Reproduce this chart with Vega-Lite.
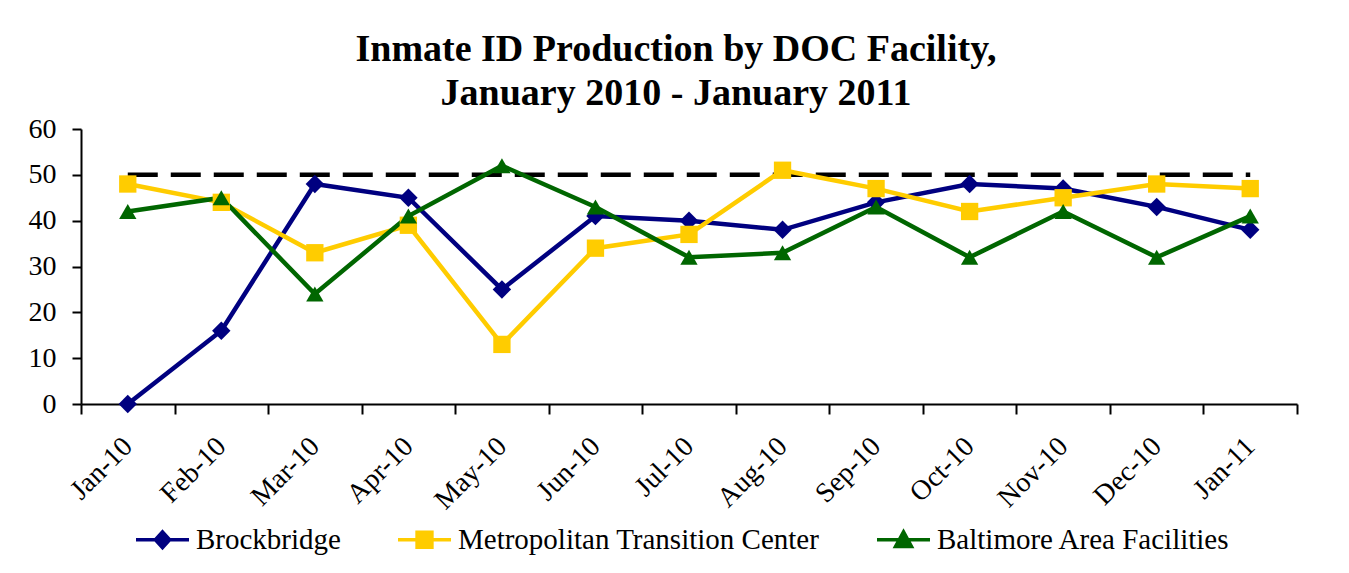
{
  "$schema": "https://vega.github.io/schema/vega-lite/v6.json",
  "width": 1216,
  "height": 275,
  "autosize": "none",
  "padding": {"left": 81, "top": 129, "right": 52, "bottom": 169},
  "background": "white",
  "title": {
    "text": ["Inmate ID  Production by DOC Facility,", "January 2010 - January 2011"],
    "font": "Liberation Serif",
    "fontSize": 38,
    "fontWeight": "bold",
    "lineHeight": 44,
    "anchor": "middle",
    "frame": "group",
    "dx": -13,
    "offset": 2,
    "color": "black"
  },
  "datasets": {
    "facilities": [
      {"month": "Jan-10", "series": "Brockbridge", "value": 0},
      {"month": "Feb-10", "series": "Brockbridge", "value": 16},
      {"month": "Mar-10", "series": "Brockbridge", "value": 48},
      {"month": "Apr-10", "series": "Brockbridge", "value": 45},
      {"month": "May-10", "series": "Brockbridge", "value": 25},
      {"month": "Jun-10", "series": "Brockbridge", "value": 41},
      {"month": "Jul-10", "series": "Brockbridge", "value": 40},
      {"month": "Aug-10", "series": "Brockbridge", "value": 38},
      {"month": "Sep-10", "series": "Brockbridge", "value": 44},
      {"month": "Oct-10", "series": "Brockbridge", "value": 48},
      {"month": "Nov-10", "series": "Brockbridge", "value": 47},
      {"month": "Dec-10", "series": "Brockbridge", "value": 43},
      {"month": "Jan-11", "series": "Brockbridge", "value": 38},
      {"month": "Jan-10", "series": "Metropolitan Transition Center", "value": 48},
      {"month": "Feb-10", "series": "Metropolitan Transition Center", "value": 44},
      {"month": "Mar-10", "series": "Metropolitan Transition Center", "value": 33},
      {"month": "Apr-10", "series": "Metropolitan Transition Center", "value": 39},
      {"month": "May-10", "series": "Metropolitan Transition Center", "value": 13},
      {"month": "Jun-10", "series": "Metropolitan Transition Center", "value": 34},
      {"month": "Jul-10", "series": "Metropolitan Transition Center", "value": 37},
      {"month": "Aug-10", "series": "Metropolitan Transition Center", "value": 51},
      {"month": "Sep-10", "series": "Metropolitan Transition Center", "value": 47},
      {"month": "Oct-10", "series": "Metropolitan Transition Center", "value": 42},
      {"month": "Nov-10", "series": "Metropolitan Transition Center", "value": 45},
      {"month": "Dec-10", "series": "Metropolitan Transition Center", "value": 48},
      {"month": "Jan-11", "series": "Metropolitan Transition Center", "value": 47},
      {"month": "Jan-10", "series": "Baltimore Area Facilities", "value": 42},
      {"month": "Feb-10", "series": "Baltimore Area Facilities", "value": 45},
      {"month": "Mar-10", "series": "Baltimore Area Facilities", "value": 24},
      {"month": "Apr-10", "series": "Baltimore Area Facilities", "value": 41},
      {"month": "May-10", "series": "Baltimore Area Facilities", "value": 52},
      {"month": "Jun-10", "series": "Baltimore Area Facilities", "value": 43},
      {"month": "Jul-10", "series": "Baltimore Area Facilities", "value": 32},
      {"month": "Aug-10", "series": "Baltimore Area Facilities", "value": 33},
      {"month": "Sep-10", "series": "Baltimore Area Facilities", "value": 43},
      {"month": "Oct-10", "series": "Baltimore Area Facilities", "value": 32},
      {"month": "Nov-10", "series": "Baltimore Area Facilities", "value": 42},
      {"month": "Dec-10", "series": "Baltimore Area Facilities", "value": 32},
      {"month": "Jan-11", "series": "Baltimore Area Facilities", "value": 41}
    ],
    "target": [
      {"month": "Jan-10", "value": 50},
      {"month": "Feb-10", "value": 50},
      {"month": "Mar-10", "value": 50},
      {"month": "Apr-10", "value": 50},
      {"month": "May-10", "value": 50},
      {"month": "Jun-10", "value": 50},
      {"month": "Jul-10", "value": 50},
      {"month": "Aug-10", "value": 50},
      {"month": "Sep-10", "value": 50},
      {"month": "Oct-10", "value": 50},
      {"month": "Nov-10", "value": 50},
      {"month": "Dec-10", "value": 50},
      {"month": "Jan-11", "value": 50}
    ]
  },
  "encoding": {
    "x": {
      "field": "month",
      "type": "ordinal",
      "scale": {
        "type": "band",
        "paddingInner": 0,
        "paddingOuter": 0,
        "domain": ["Jan-10", "Feb-10", "Mar-10", "Apr-10", "May-10", "Jun-10", "Jul-10", "Aug-10", "Sep-10", "Oct-10", "Nov-10", "Dec-10", "Jan-11"]
      },
      "axis": {
        "title": null,
        "labelAngle": -45,
        "labelAlign": "right",
        "labelBaseline": "middle",
        "labelFont": "Liberation Serif",
        "labelFontSize": 28,
        "labelColor": "black",
        "labelPadding": 28,
        "tickBand": "extent",
        "tickSize": 10,
        "tickWidth": 2,
        "tickColor": "black",
        "domainColor": "black",
        "domainWidth": 2,
        "grid": false
      }
    },
    "y": {
      "field": "value",
      "type": "quantitative",
      "scale": {"domain": [0, 60], "nice": false},
      "axis": {
        "title": null,
        "values": [0, 10, 20, 30, 40, 50, 60],
        "labelFont": "Liberation Serif",
        "labelFontSize": 28,
        "labelColor": "black",
        "labelPadding": 16,
        "tickSize": 9,
        "tickWidth": 2,
        "tickColor": "black",
        "domainColor": "black",
        "domainWidth": 2,
        "grid": false
      }
    }
  },
  "layer": [
    {
      "data": {"name": "target"},
      "mark": {"type": "line", "color": "black", "strokeWidth": 4.5, "strokeDash": [30, 13]},
      "encoding": {}
    },
    {
      "data": {"name": "facilities"},
      "mark": {"type": "point", "filled": true, "size": 0, "opacity": 1},
      "encoding": {
        "fill": {
          "field": "series",
          "type": "nominal",
          "scale": {
            "domain": ["Brockbridge", "Metropolitan Transition Center", "Baltimore Area Facilities"],
            "range": ["#000080", "#FFCC00", "#006600"]
          },
          "legend": {
            "title": null,
            "orient": "none",
            "legendX": 53,
            "legendY": 382,
            "direction": "horizontal",
            "labelFont": "Liberation Serif",
            "labelFontSize": 29,
            "labelColor": "black",
            "labelLimit": 0,
            "labelOffset": 5,
            "columnPadding": 50,
            "symbolSize": 2809,
            "symbolStrokeWidth": 3.5,
            "symbolOpacity": 1
          }
        },
        "stroke": {
          "field": "series",
          "type": "nominal",
          "scale": {
            "domain": ["Brockbridge", "Metropolitan Transition Center", "Baltimore Area Facilities"],
            "range": ["#000080", "#FFCC00", "#006600"]
          },
          "legend": {
            "title": null,
            "orient": "none",
            "legendX": 53,
            "legendY": 382,
            "direction": "horizontal",
            "labelFont": "Liberation Serif",
            "labelFontSize": 29,
            "labelColor": "black",
            "labelLimit": 0,
            "labelOffset": 5,
            "columnPadding": 50,
            "symbolSize": 2809,
            "symbolStrokeWidth": 3.5,
            "symbolOpacity": 1
          }
        },
        "shape": {
          "field": "series",
          "type": "nominal",
          "scale": {
            "domain": ["Brockbridge", "Metropolitan Transition Center", "Baltimore Area Facilities"],
            "range": [
              "M-1,0L1,0M0,-0.3L0.27,0L0,0.3L-0.27,0Z",
              "M-1,0L1,0M-0.28,-0.28L0.28,-0.28L0.28,0.28L-0.28,0.28Z",
              "M-1,0L1,0M0,-0.3L0.3,0.25L-0.3,0.25Z"
            ]
          },
          "legend": {
            "title": null,
            "orient": "none",
            "legendX": 53,
            "legendY": 382,
            "direction": "horizontal",
            "labelFont": "Liberation Serif",
            "labelFontSize": 29,
            "labelColor": "black",
            "labelLimit": 0,
            "labelOffset": 5,
            "columnPadding": 50,
            "symbolSize": 2809,
            "symbolStrokeWidth": 3.5,
            "symbolOpacity": 1
          }
        }
      }
    },
    {
      "data": {"name": "facilities"},
      "mark": {"type": "line", "strokeWidth": 4.5},
      "encoding": {
        "color": {
          "field": "series",
          "type": "nominal",
          "scale": {
            "domain": ["Brockbridge", "Metropolitan Transition Center", "Baltimore Area Facilities"],
            "range": ["#000080", "#FFCC00", "#006600"]
          },
          "legend": null
        }
      }
    },
    {
      "data": {"name": "facilities"},
      "transform": [{"filter": "datum.series === 'Brockbridge'"}],
      "mark": {"type": "point", "shape": "diamond", "filled": true, "opacity": 1, "size": 340},
      "encoding": {"color": {"field": "series", "type": "nominal", "legend": null}}
    },
    {
      "data": {"name": "facilities"},
      "transform": [{"filter": "datum.series === 'Metropolitan Transition Center'"}],
      "mark": {"type": "point", "shape": "square", "filled": true, "opacity": 1, "size": 300},
      "encoding": {"color": {"field": "series", "type": "nominal", "legend": null}}
    },
    {
      "data": {"name": "facilities"},
      "transform": [{"filter": "datum.series === 'Baltimore Area Facilities'"}],
      "mark": {"type": "point", "shape": "triangle-up", "filled": true, "opacity": 1, "size": 300},
      "encoding": {"color": {"field": "series", "type": "nominal", "legend": null}}
    }
  ],
  "config": {"view": {"stroke": null}}
}
